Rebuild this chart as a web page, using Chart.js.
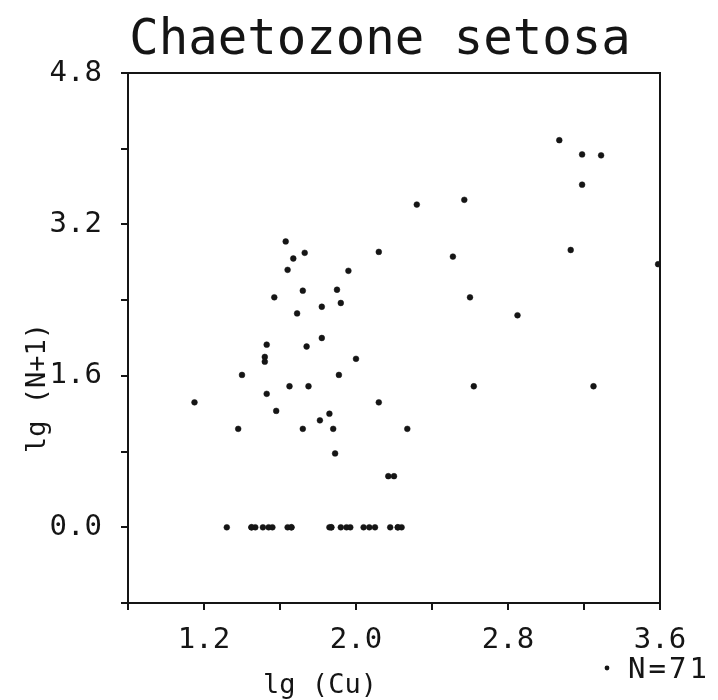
<!DOCTYPE html>
<html>
<head>
<meta charset="utf-8">
<script src="https://cdn.jsdelivr.net/npm/chart.js@4.4.1/dist/chart.umd.min.js"></script>
<style>
  html, body { margin: 0; padding: 0; background: #fff; }
  #wrap { width: 718px; height: 700px; position: relative; }
</style>
</head>
<body>
<div id="wrap"><canvas id="c" width="718" height="700"></canvas></div>
<script>
// ---- data ----
const chartTitle = 'Chaetozone setosa';
const xTitle = 'lg (Cu)';
const yTitle = 'lg (N+1)';
const seriesLabel = 'N=71';

const xTickLabels = ['1.2', '2.0', '2.8', '3.6'];
const yTickLabels = ['0.0', '1.6', '3.2', '4.8'];

const lgCu = [
  1.63, 1.73, 1.67, 1.64, 1.96, 1.72, 1.90, 1.57, 1.92, 1.82,
  1.69, 1.82, 1.53, 1.74, 1.52, 1.52, 2.00, 1.40, 1.91, 1.65,
  1.75, 1.53, 1.15, 1.58, 1.86, 1.81, 1.38, 1.72, 1.88, 2.12,
  2.27, 1.89, 2.17, 2.20, 3.07, 3.19, 3.29, 3.19, 2.32, 2.57,
  2.12, 2.51, 3.13, 3.59, 2.60, 2.85, 2.62, 3.25,
  1.32, 1.45, 1.47, 1.51, 1.54, 1.56, 1.64, 1.66, 1.86, 1.87,
  1.92, 1.95, 1.97, 2.04, 2.07, 2.10, 2.18, 2.22, 2.24,
  1.45, 1.66, 1.87, 2.22
];
const lgN1 = [
  3.02, 2.90, 2.84, 2.72, 2.71, 2.50, 2.51, 2.43, 2.37, 2.33,
  2.26, 2.00, 1.93, 1.91, 1.80, 1.75, 1.78, 1.61, 1.61, 1.49,
  1.49, 1.41, 1.32, 1.23, 1.20, 1.13, 1.04, 1.04, 1.04, 1.32,
  1.04, 0.78, 0.54, 0.54, 4.09, 3.94, 3.93, 3.62, 3.41, 3.46,
  2.91, 2.86, 2.93, 2.78, 2.43, 2.24, 1.49, 1.49,
  0.00, 0.00, 0.00, 0.00, 0.00, 0.00, 0.00, 0.00, 0.00, 0.00,
  0.00, 0.00, 0.00, 0.00, 0.00, 0.00, 0.00, 0.00, 0.00,
  0.00, 0.00, 0.00, 0.00
];

const points = lgCu.map((x, i) => ({ x: x, y: lgN1[i] }));

const FONT = '"DejaVu Sans Mono", "Liberation Mono", monospace';
const INK = '#151515';

function fmt(v) { return (Math.round(v * 10) / 10).toFixed(1); }

const framePlugin = {
  id: 'frame',
  afterDraw(chart) {
    const { ctx, chartArea: a } = chart;
    ctx.save();
    ctx.strokeStyle = INK;
    ctx.lineWidth = 2;
    ctx.strokeRect(a.left, a.top, a.right - a.left, a.bottom - a.top);

    ctx.fillStyle = INK;
    // title
    ctx.font = '49px ' + FONT;
    ctx.textAlign = 'center';
    ctx.textBaseline = 'alphabetic';
    ctx.fillText(chartTitle, 380, 54);

    // x axis title
    ctx.font = '27px ' + FONT;
    ctx.fillText(xTitle, 320, 693);

    // y axis title (rotated)
    ctx.save();
    ctx.translate(45, 388);
    ctx.rotate(-Math.PI / 2);
    ctx.textAlign = 'center';
    ctx.fillText(yTitle, 0, 0);
    ctx.restore();

    // N label with dot
    ctx.beginPath();
    ctx.arc(607, 668, 2.4, 0, Math.PI * 2);
    ctx.fill();
    ctx.textAlign = 'left';
    ctx.font = '29px ' + FONT;
    if ('letterSpacing' in ctx) ctx.letterSpacing = '3px';
    ctx.fillText(seriesLabel, 628, 678);
    ctx.restore();
  }
};

new Chart(document.getElementById('c'), {
  type: 'scatter',
  data: {
    datasets: [{
      label: seriesLabel,
      data: points,
      backgroundColor: INK,
      borderColor: INK,
      pointRadius: 2.9,
      pointBorderWidth: 0.5,
      pointHoverRadius: 2.9
    }]
  },
  options: {
    responsive: false,
    animation: false,
    events: [],
    layout: { padding: { left: 0, right: 58, top: 73, bottom: 0 } },
    plugins: {
      legend: { display: false },
      tooltip: { enabled: false },
      title: { display: false }
    },
    scales: {
      x: {
        type: 'linear',
        min: 0.8,
        max: 3.6,
        afterFit(scale) { scale.height = 97; },
        ticks: {
          stepSize: 0.4,
          autoSkip: false,
          maxRotation: 0,
          color: INK,
          font: { family: FONT, size: 29 },
          padding: 13,
          callback: (v) => xTickLabels.includes(fmt(v)) ? fmt(v) : ''
        },
        grid: {
          drawOnChartArea: false,
          drawTicks: true,
          tickLength: 7,
          color: INK,
          lineWidth: 2
        },
        border: { display: true, color: INK, width: 2 }
      },
      y: {
        type: 'linear',
        min: -0.8,
        max: 4.8,
        afterFit(scale) { scale.width = 128; },
        ticks: {
          stepSize: 0.8,
          autoSkip: false,
          color: INK,
          font: { family: FONT, size: 29 },
          padding: 19,
          callback: (v) => yTickLabels.includes(fmt(v)) ? fmt(v) : ''
        },
        grid: {
          drawOnChartArea: false,
          drawTicks: true,
          tickLength: 7,
          color: INK,
          lineWidth: 2
        },
        border: { display: true, color: INK, width: 2 }
      }
    }
  },
  plugins: [framePlugin]
});
</script>
</body>
</html>
